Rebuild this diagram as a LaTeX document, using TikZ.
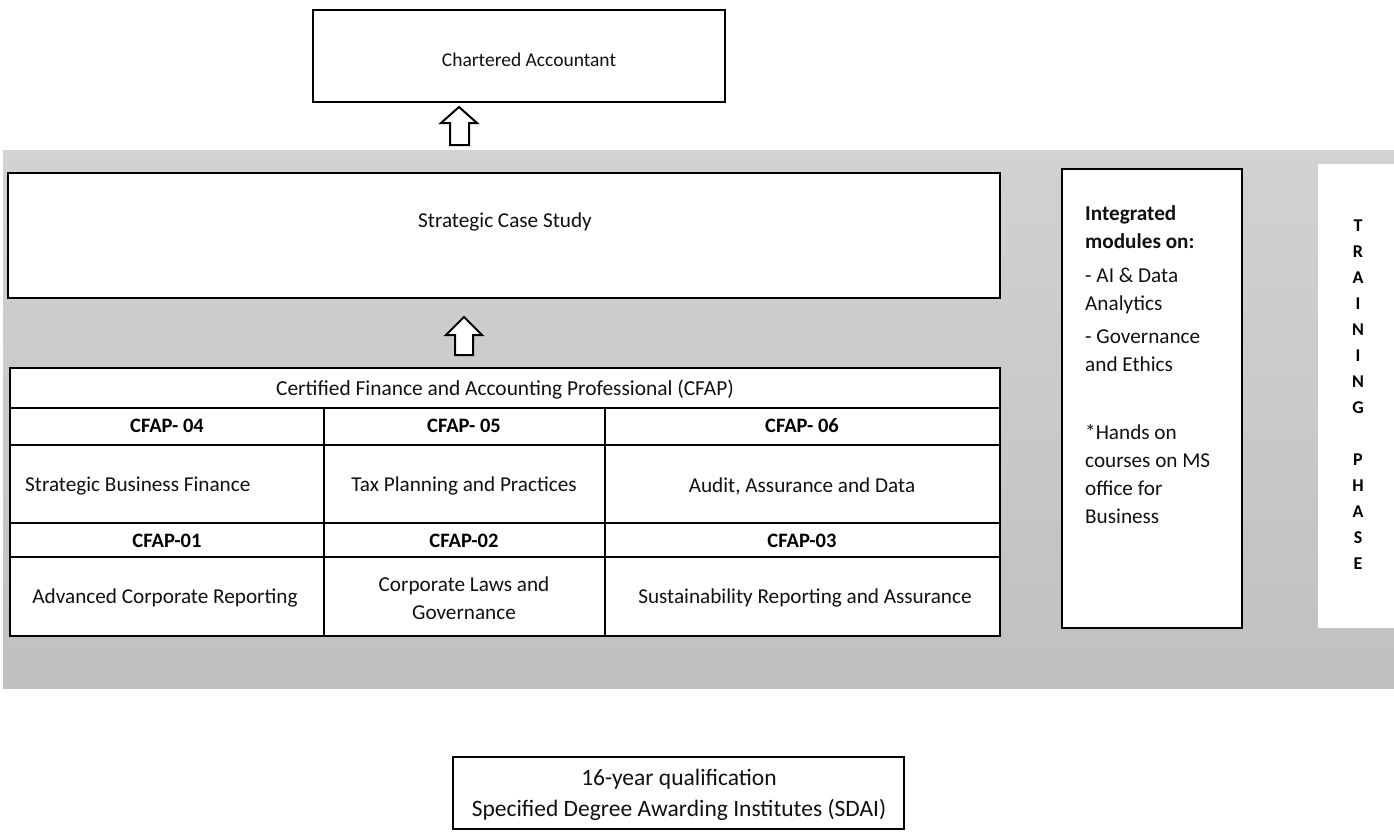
\documentclass[tikz,border=0pt]{standalone}
\usepackage{fontspec}
\setmainfont{Carlito}
\definecolor{bandtop}{HTML}{D2D2D2}
\definecolor{bandbot}{HTML}{C0C0C0}
\definecolor{ink}{HTML}{111111}
\begin{document}
\begin{tikzpicture}[x=1pt,y=-1pt,
  frame/.style={draw=black, line width=2pt, fill=white, inner sep=0pt, outer sep=0pt, anchor=north west},
  rule/.style={draw=black, line width=2pt},
  txt/.style={font=\fontsize{21.2}{25}\selectfont, text=ink, inner sep=0pt},
  btxt/.style={font=\bfseries\fontsize{20.5}{24}\selectfont, text=black, inner sep=0pt},
  blockarrow/.style={draw=black, line width=2pt, fill=white, line join=miter}
]
\useasboundingbox (0,0) rectangle (1394,831);
\fill[white] (0,0) rectangle (1394,831);
\fill[top color=bandtop, bottom color=bandbot] (3,150) rectangle (1394,688);

% Chartered Accountant
\node[frame, minimum width=412pt, minimum height=92pt] (cabox) at (313,10) {};
\node[txt, font=\fontsize{19.5}{24}\selectfont] (ca) at (529,60) {Chartered Accountant};
\draw[blockarrow] (459,107) -- (477,123) -- (469,123) -- (469,145) -- (450,145) -- (450,123) -- (441,123) -- cycle;

% Strategic Case Study
\node[frame, minimum width=992pt, minimum height=125pt] (scsbox) at (8,173) {};
\node[txt] (scs) at (505,222) {Strategic Case Study};
\draw[blockarrow] (464,317) -- (482,335) -- (473,335) -- (473,355) -- (455,355) -- (455,335) -- (446,335) -- cycle;

% CFAP table
\node[frame, minimum width=990pt, minimum height=268pt] (cfap) at (10,368) {};
\draw[rule] (10,408) -- (1000,408);
\draw[rule] (10,445) -- (1000,445);
\draw[rule] (10,523) -- (1000,523);
\draw[rule] (10,557) -- (1000,557);
\draw[rule] (324,408) -- (324,636);
\draw[rule] (605,408) -- (605,636);
\node[txt, font=\fontsize{21.4}{25}\selectfont] (cfaph) at (505,390) {Certified Finance and Accounting Professional (CFAP)};
\node[btxt] (c4) at (167,426) {CFAP- 04};
\node[btxt] (c5) at (464,426) {CFAP- 05};
\node[btxt] (c6) at (802,426) {CFAP- 06};
\node[txt, anchor=west] (t4) at (25,486) {Strategic Business Finance};
\node[txt] (t5) at (464,486) {Tax Planning and Practices};
\node[txt] (t6) at (802,486) {Audit, Assurance and Data};
\node[btxt] (c1) at (167,541) {CFAP-01};
\node[btxt] (c2) at (464,541) {CFAP-02};
\node[btxt] (c3) at (802,541) {CFAP-03};
\node[txt] (t1) at (165,598) {Advanced Corporate Reporting};
\node[txt, align=center, font=\fontsize{21.2}{28}\selectfont] (t2) at (464,598) {Corporate Laws and\\Governance};
\node[txt] (t3) at (805,598) {Sustainability Reporting and Assurance};

% Integrated modules
\node[frame, line width=1.6pt, minimum width=180pt, minimum height=459pt] (intbox) at (1062,169) {};
\node[txt, anchor=north west, align=left, font=\fontsize{21.2}{28}\selectfont] (intt) at (1085,205)
  {\textbf{Integrated}\\\textbf{modules on:}\\[6pt]- AI \& Data\\Analytics\\[5pt]- Governance\\and Ethics\\[40pt]*Hands on\\courses on MS\\office for\\Business};

% Training phase panel
\node[fill=white, draw=none, inner sep=0pt, outer sep=0pt, anchor=north west, minimum width=76pt, minimum height=464pt] (tpanel) at (1318,164) {};
\node[btxt, anchor=north, align=center, font=\bfseries\fontsize{18}{26}\selectfont] (tphase) at (1358,220)
  {T\\R\\A\\I\\N\\I\\N\\G\\[26pt]P\\H\\A\\S\\E};

% SDAI
\node[frame, minimum width=451pt, minimum height=72pt] (sdaibox) at (453,757) {};
\node[txt, align=center, font=\fontsize{23.5}{31}\selectfont] (sdai) at (679,795) {16-year qualification\\Specified Degree Awarding Institutes (SDAI)};
\end{tikzpicture}
\end{document}
